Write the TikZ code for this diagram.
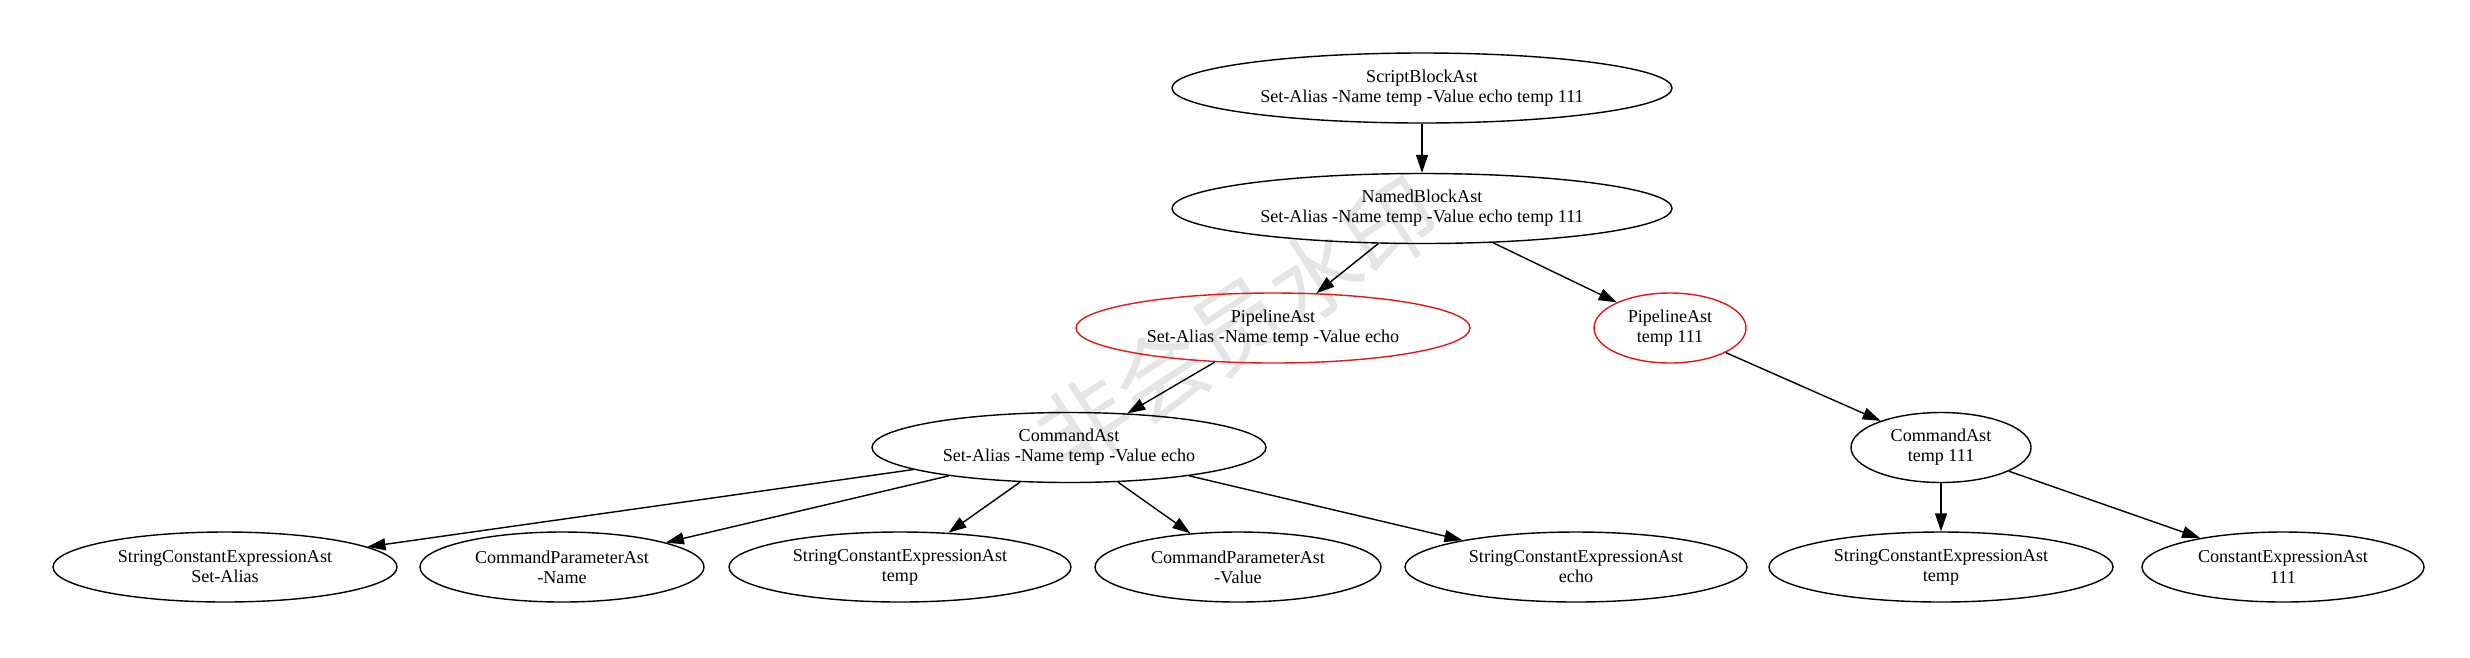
\documentclass[tikz,border=0pt]{standalone}
\usepackage{fontspec}
\setmainfont{Liberation Serif}
\newfontfamily\cjk{Noto Sans CJK SC}
\usetikzlibrary{shapes.geometric,arrows.meta}
\definecolor{gvred}{RGB}{225,25,25}
\begin{document}
\begin{tikzpicture}[x=0.2mm,y=-0.2mm,
  ast/.style={ellipse,draw=black,line width=0.8pt,inner sep=0pt,align=center,
    minimum height=14mm,font=\fontsize{10.3}{11.4}\selectfont},
  redast/.style={ast,draw=gvred},
  edge/.style={line width=0.8pt,-{Triangle[length=3.6mm,width=2.4mm]}},
  watermark/.style={text=black!10,font=\cjk\fontsize{52}{52}\selectfont,rotate=33}]
\useasboundingbox (0,0) rectangle (2470,657);
\node[watermark] (wm) at (1238,325) {非会员水印};
\node[ast,minimum width=100mm] (sb) at (1422,88) {ScriptBlockAst\\Set-Alias -Name temp -Value echo temp 111};
\node[ast,minimum width=100mm] (nb) at (1422,208.5) {NamedBlockAst\\Set-Alias -Name temp -Value echo temp 111};
\node[redast,minimum width=78.8mm] (pl) at (1273,328) {PipelineAst\\Set-Alias -Name temp -Value echo};
\node[redast,minimum width=30.4mm] (pr) at (1670,328) {PipelineAst\\temp 111};
\node[ast,minimum width=78.8mm] (cl) at (1069,447.5) {CommandAst\\Set-Alias -Name temp -Value echo};
\node[ast,minimum width=36mm] (cr) at (1941,447.5) {CommandAst\\temp 111};
\node[ast,minimum width=68.8mm] (b1) at (225,567) {StringConstantExpressionAst\\Set-Alias};
\node[ast,minimum width=56.8mm] (b2) at (562,567) {CommandParameterAst\\-Name};
\node[ast,minimum width=68.4mm] (b3) at (900,567) {StringConstantExpressionAst\\temp};
\node[ast,minimum width=57.2mm] (b4) at (1238,567) {CommandParameterAst\\-Value};
\node[ast,minimum width=68.4mm] (b5) at (1576,567) {StringConstantExpressionAst\\echo};
\node[ast,minimum width=68.8mm] (b6) at (1941,567) {StringConstantExpressionAst\\temp};
\node[ast,minimum width=56.4mm] (b7) at (2283,567) {ConstantExpressionAst\\111};
\draw[edge] (sb) -- (nb);
\draw[edge] (nb) -- (pl);
\draw[edge] (nb) -- (pr);
\draw[edge] (pl) -- (cl);
\draw[edge] (pr) -- (cr);
\draw[edge] (cl) -- (b1);
\draw[edge] (cl) -- (b2);
\draw[edge] (cl) -- (b3);
\draw[edge] (cl) -- (b4);
\draw[edge] (cl) -- (b5);
\draw[edge] (cr) -- (b6);
\draw[edge] (cr) -- (b7);
\end{tikzpicture}
\end{document}
